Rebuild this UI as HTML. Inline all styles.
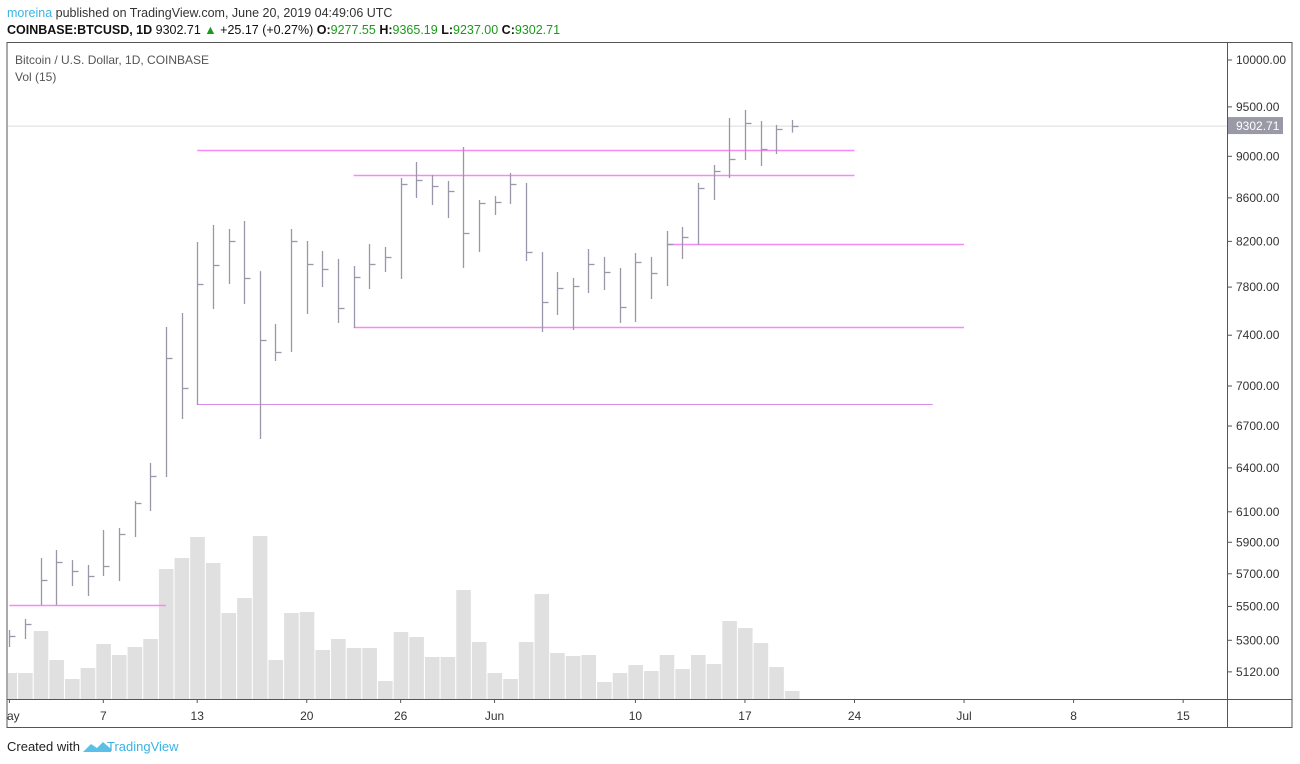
<!DOCTYPE html>
<html><head><meta charset="utf-8">
<style>
body{margin:0;background:#fff;width:1300px;height:764px;overflow:hidden;font-family:"Liberation Sans",sans-serif;}
svg{position:absolute;left:0;top:0}
</style></head>
<body>
<svg id="c" width="1300" height="764">
<defs><clipPath id="pane"><rect x="8" y="43" width="1219" height="656"/></clipPath></defs>
<text x="7" y="17" font-size="12.5" fill="#333"><tspan fill="#3bb3e4">moreina</tspan> published on TradingView.com, June 20, 2019 04:49:06 UTC</text>
<text x="7" y="34" font-size="12.5" fill="#111"><tspan font-weight="bold">COINBASE:BTCUSD, 1D</tspan> 9302.71 <tspan fill="#1a9a1a">▲</tspan> +25.17 (+0.27%) <tspan font-weight="bold">O:</tspan><tspan fill="#1a9a1a">9277.55</tspan> <tspan font-weight="bold">H:</tspan><tspan fill="#1a9a1a">9365.19</tspan> <tspan font-weight="bold">L:</tspan><tspan fill="#1a9a1a">9237.00</tspan> <tspan font-weight="bold">C:</tspan><tspan fill="#1a9a1a">9302.71</tspan></text>
<rect x="7" y="42.5" width="1285" height="685" fill="none" stroke="#555" stroke-width="1"/>
<line x1="1227.5" y1="42" x2="1227.5" y2="728" stroke="#555"/>
<line x1="7" y1="699.5" x2="1292" y2="699.5" stroke="#555"/>
<text x="15" y="64" font-size="12" fill="#555">Bitcoin / U.S. Dollar, 1D, COINBASE</text>
<text x="15" y="81" font-size="12" fill="#555">Vol (15)</text>
<text x="7" y="751" font-size="13" fill="#222">Created with</text>
<path d="M83 752 l8-8 6 4 6-6 8 7 v3 h-28z" fill="#5bc0e8"/>
<text x="107" y="751" font-size="13" fill="#3bb3e4">TradingView</text>
<g id="g" clip-path="url(#pane)"></g>
<g id="ax"></g>
</svg>
<script>
const dayLabels=["ay","7","13","20","26","Jun","10","17","24","Jul","8","15"];
const dayLabelIdx=[0,6,12,19,25,31,40,47,54,61,68,75];
const priceTicks=[10000,9500,9000,8600,8200,7800,7400,7000,6700,6400,6100,5900,5700,5500,5300,5120];
const highs=[5360,5425,5799,5850,5786,5755,5980,5993,6172,6435,7467,7582,8195,8349,8312,8385,7938,7492,8312,8204,8114,8044,7982,8176,8150,8789,8944,8818,8760,9092,8580,8617,8837,8741,8105,7930,7878,8132,8062,7965,8096,8062,8294,8330,8741,8915,9385,9468,9355,9314,9365];
const lows=[5261,5307,5509,5509,5624,5563,5686,5655,5934,6105,6337,6752,6856,7615,7826,7657,6606,7194,7266,7574,7800,7500,7459,7784,7930,7870,8599,8533,8412,7965,8105,8440,8543,8026,7426,7566,7442,7750,7775,7500,7508,7699,7809,8044,8168,8580,8789,8964,8905,9023,9237];
const closes=[5325,5395,5661,5774,5717,5686,5749,5954,6159,6344,7218,6985,7826,7991,8204,7878,7361,7266,8204,8000,7956,7624,7887,8000,8062,8731,8770,8712,8665,8275,8551,8561,8731,8105,7674,7792,7809,8000,7930,7632,8017,7921,8176,8239,8694,8857,8974,9334,9072,9273,9302.71];
const volumes=[26,26,68,39,20,31,55,44,52,60,130,141,162,136,86,101,163,39,86,87,49,60,51,51,18,67,62,42,42,109,57,26,20,57,105,46,43,44,17,26,34,28,44,30,44,35,78,71,56,32,8];
const levelPrices=[9062,8817,8176,7467,6866,5509];
const levelStart=[12,22,42,22,12,0];
const levelEnd=[54,54,61,61,59,10];
const lastPrice=9302.71;

const g=document.getElementById('g');
const ax=document.getElementById('ax');
const NS='http://www.w3.org/2000/svg';
function xOf(d){return 9.4+15.65*d;}
function yOf(p){return 60+914*Math.log(10000/p);}
function vY(v){return 699-v;}
function mk(tag,attrs,par){const e=document.createElementNS(NS,tag);for(const k in attrs)e.setAttribute(k,attrs[k]);(par||g).appendChild(e);return e;}

volumes.forEach((v,i)=>{
  const r=mk('rect',{x:xOf(i)-7,y:vY(v),width:14.6,height:699-vY(v),fill:'#e0e0e0'});
  
  
});
const lp=mk('line',{x1:7,x2:1227,y1:yOf(lastPrice),y2:yOf(lastPrice),stroke:'#dcdcdc'});


levelPrices.forEach((p,i)=>{
  const y=Math.round(yOf(p))+0.5;
  const l=mk('line',{x1:xOf(levelStart[i]),x2:xOf(levelEnd[i]),y1:y,y2:y,stroke:i==4?'#d88ee8':'#f58af5','stroke-width':i==4?1:1.5});
  
  
});
highs.forEach((h,i)=>{
  const x=Math.round(xOf(i))+0.5;
  const b=mk('line',{x1:x,x2:x,y1:yOf(h),y2:yOf(lows[i]),stroke:'#9a97a9','stroke-width':1.3});
  
  
  const c=mk('line',{x1:x,x2:x+6,y1:Math.round(yOf(closes[i]))+0.5,y2:Math.round(yOf(closes[i]))+0.5,stroke:'#9a97a9','stroke-width':1.3});
  
  
});
priceTicks.forEach(p=>{
  const y=yOf(p);
  mk('line',{x1:1227,x2:1232,y1:y,y2:y,stroke:'#555'},ax);
  const t=mk('text',{x:1236,y:y+4,'font-size':12,fill:'#333'},ax);
  t.textContent=p.toFixed(2);
  
  
});
const ly=yOf(lastPrice);
const tag=mk('rect',{x:1228,y:ly-9,width:55,height:17,fill:'#9a99a6'},ax);


const tt=mk('text',{x:1236,y:ly+4,'font-size':12,fill:'#fff'},ax);
tt.textContent=lastPrice.toFixed(2);


dayLabels.forEach((s,i)=>{
  const x=xOf(dayLabelIdx[i]);
  mk('line',{x1:x,x2:x,y1:699,y2:703,stroke:'#555'},ax);
  const t=mk('text',{x:i==0?7:x,y:720,'font-size':12,fill:'#333','text-anchor':i==0?'start':'middle'},ax);
  t.textContent=s;
  
  
});
</script>
</body></html>
